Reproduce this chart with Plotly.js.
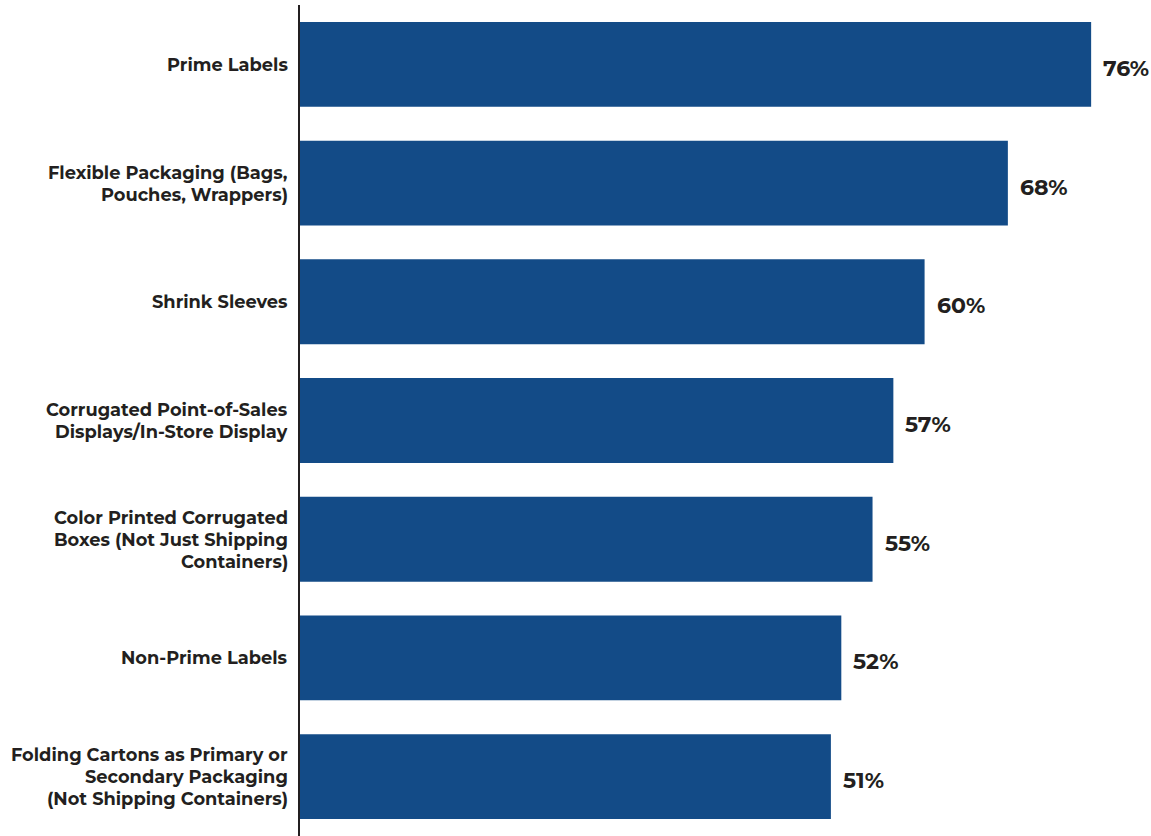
<!DOCTYPE html>
<html><head><meta charset="utf-8">
<script src="https://cdn.plot.ly/plotly-3.0.1.min.js"></script>
<style>html,body{margin:0;padding:0;background:#fff}#c{width:1151px;height:836px}</style>
</head><body><div id="c"></div>
<script>
const categories = [
  "Prime Labels",
  "Flexible Packaging (Bags,<br>Pouches, Wrappers)",
  "Shrink Sleeves",
  "Corrugated Point-of-Sales<br>Displays/In-Store Display",
  "Color Printed Corrugated<br>Boxes (Not Just Shipping<br>Containers)",
  "Non-Prime Labels",
  "Folding Cartons as Primary or<br>Secondary Packaging<br>(Not Shipping Containers)"
];
const values = [76, 68, 60, 57, 55, 52, 51];
const valueLabels = values.map(v => v + "%");

const FONT = "Montserrat, 'Open Sans', Lato, sans-serif";
const INK = "#231f20";
const trace = {
  type: "bar", orientation: "h",
  x: values, y: categories,
  marker: {color: "#134b87", line: {width: 0}},
  hoverinfo: "skip"
};
const annotations = values.map((v, i) => ({
  x: v, y: categories[i], xref: "x", yref: "y",
  text: "<b>" + valueLabels[i] + "</b>", showarrow: false,
  xanchor: "left", yanchor: "middle", xshift: 10, yshift: -4,
  font: {family: FONT, size: 22, color: INK}
}));
// category labels, one annotation per line for tighter leading
const LEAD = 21.9;
categories.forEach((c) => {
  const lines = c.split("<br>");
  const n = lines.length;
  lines.forEach((ln, j) => {
    annotations.push({
      x: 0, y: c, xref: "x", yref: "y",
      text: "<b>" + ln + "</b>", showarrow: false,
      xanchor: "right", yanchor: "middle", xshift: -11,
      height: 21, valign: "middle", borderpad: 0,
      yshift: ((n - 1) / 2 - j) * LEAD,
      font: {family: FONT, size: 17.8, color: INK}
    });
  });
});
const layout = {
  width: 1151, height: 836,
  margin: {l: 300, r: 0, t: 5, b: 0},
  paper_bgcolor: "#fff", plot_bgcolor: "#fff",
  bargap: 0.285,
  showlegend: false,
  xaxis: {range: [0, 81.75], showgrid: false, zeroline: false, showticklabels: false, showline: false, fixedrange: true},
  yaxis: {
    autorange: "reversed", showgrid: false, zeroline: false,
    showline: true, linecolor: INK, linewidth: 2,
    ticks: "", showticklabels: false
  },
  annotations: annotations
};
Plotly.newPlot("c", [trace], layout, {staticPlot: true, displayModeBar: false});
</script></body></html>
